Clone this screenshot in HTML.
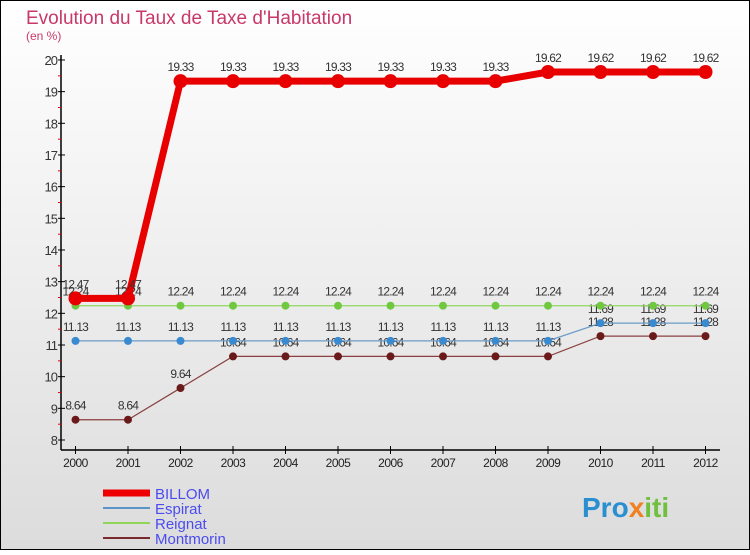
<!DOCTYPE html>
<html><head><meta charset="utf-8"><style>
body{margin:0;}
svg text{font-family:"Liberation Sans",sans-serif;}
</style></head><body>
<svg width="750" height="550" xmlns="http://www.w3.org/2000/svg">
<defs><linearGradient id="bg" x1="0" y1="0" x2="0" y2="1"><stop offset="0" stop-color="#ffffff"/><stop offset="1" stop-color="#dcdcdc"/></linearGradient></defs>
<rect x="0.5" y="0.5" width="749" height="549" fill="url(#bg)" stroke="#000"/>
<text x="26" y="24" font-size="19" fill="#c8386a">Evolution du Taux de Taxe d'Habitation</text>
<text x="26" y="40" font-size="12" fill="#c8386a">(en %)</text>
<g id="axes"></g><g id="series"></g>
<g>
<line x1="103" y1="493" x2="150" y2="493" stroke="#e00" stroke-width="7"/>
<text x="155" y="499" font-size="15" fill="#4b4bf0">BILLOM</text>
<line x1="103" y1="508" x2="150" y2="508" stroke="#5b94c8" stroke-width="2"/>
<text x="155" y="514" font-size="15" fill="#4b4bf0">Espirat</text>
<line x1="103" y1="523" x2="150" y2="523" stroke="#8fd65a" stroke-width="2"/>
<text x="155" y="529" font-size="15" fill="#4b4bf0">Reignat</text>
<line x1="103" y1="538" x2="150" y2="538" stroke="#7a2a2a" stroke-width="2"/>
<text x="155" y="544" font-size="15" fill="#4b4bf0">Montmorin</text>
</g>
<text x="582" y="517" font-size="28" font-weight="bold" fill="#2a8fd0">Pro<tspan fill="#f08020">x</tspan><tspan fill="#70c040">iti</tspan></text>
</svg>
<script>
const years=[2000,2001,2002,2003,2004,2005,2006,2007,2008,2009,2010,2011,2012];
const billom=[12.47,12.47,19.33,19.33,19.33,19.33,19.33,19.33,19.33,19.62,19.62,19.62,19.62];
const espirat=[11.13,11.13,11.13,11.13,11.13,11.13,11.13,11.13,11.13,11.13,11.69,11.69,11.69];
const reignat=[12.24,12.24,12.24,12.24,12.24,12.24,12.24,12.24,12.24,12.24,12.24,12.24,12.24];
const montmorin=[8.64,8.64,9.64,10.64,10.64,10.64,10.64,10.64,10.64,10.64,11.28,11.28,11.28];
const yTicks=[8,9,10,11,12,13,14,15,16,17,18,19,20];
const NS="http://www.w3.org/2000/svg";
const xs=i=>75.5+i*52.5, ys=v=>440-(v-8)*31.67;
function mk(t,a,p){const e=document.createElementNS(NS,t);for(const k in a)e.setAttribute(k,a[k]);p.appendChild(e);return e;}
const ax=document.getElementById('axes');
let l=mk('line',{x1:61,y1:55,x2:61,y2:450,stroke:'#000','stroke-width':1.5},ax);


l=mk('line',{x1:61,y1:450,x2:720,y2:450,stroke:'#000','stroke-width':1.5},ax);


yTicks.forEach(v=>{const y=ys(v);
mk('line',{x1:58,y1:y,x2:65,y2:y,stroke:'#000'},ax);
if(v<20)mk('line',{x1:58,y1:y-15.8,x2:61,y2:y-15.8,stroke:'#e00'},ax);
const t=mk('text',{x:57,y:y+5,'font-size':13,fill:'#333','text-anchor':'end','letter-spacing':'-1'},ax);t.textContent=v;

});
years.forEach((yr,i)=>{const x=xs(i);
mk('line',{x1:x,y1:446,x2:x,y2:454,stroke:'#000'},ax);
const t=mk('text',{x:x,y:467,'font-size':12,fill:'#222','text-anchor':'middle','letter-spacing':'-0.5'},ax);t.textContent=yr;

});
const sg=document.getElementById('series');
function draw(name,data,color,w,r,dot){
const g=mk('g',{},sg);


mk('polyline',{points:data.map((v,i)=>xs(i)+','+ys(v)).join(' '),fill:'none',stroke:color,'stroke-width':w},g);
data.forEach((v,i)=>{const c=mk('circle',{cx:xs(i),cy:ys(v),r:r,fill:dot},g);


const t=mk('text',{x:xs(i),y:ys(v)-10,'font-size':12,fill:'#333','text-anchor':'middle','letter-spacing':'-0.8'},g);t.textContent=v;

});}
draw('montmorin',montmorin,'#8a4040',1.2,4,'#6a1a1a');
draw('espirat',espirat,'#6a9cc8',1.2,4,'#3a8ad0');
draw('reignat',reignat,'#90d860',1.2,4,'#70c840');
draw('billom',billom,'#e80000',7,7,'#e80000');
</script>
</body></html>
